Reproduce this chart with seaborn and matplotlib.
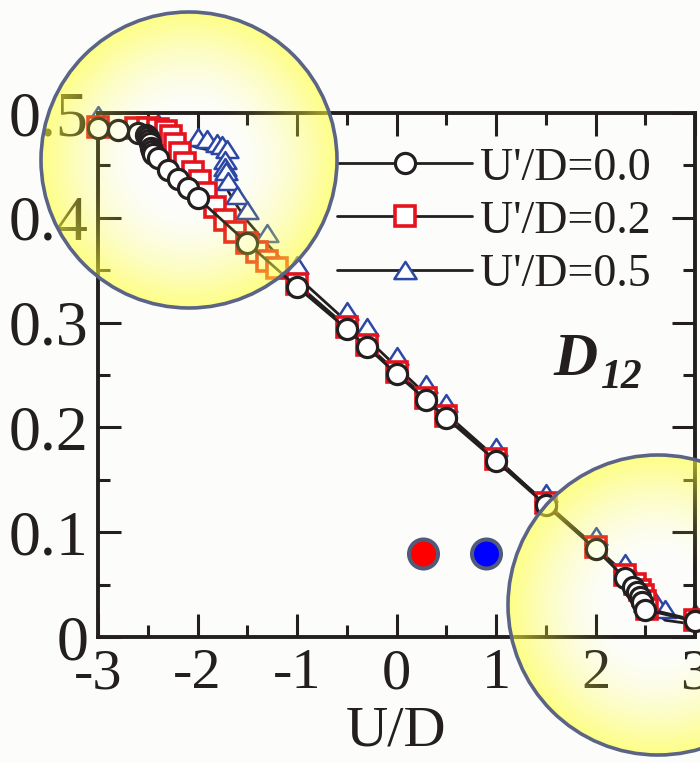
import numpy as np
import pandas as pd
import matplotlib
matplotlib.use("Agg")
import matplotlib.pyplot as plt
import seaborn as sns
from matplotlib.path import Path
from matplotlib.lines import Line2D
from matplotlib.patches import Circle
from matplotlib.ticker import MultipleLocator, FuncFormatter

# ---------------- data ----------------
u00_x = [-3.0, -2.8, -2.6, -2.52, -2.5, -2.49, -2.48, -2.47, -2.46, -2.45, -2.4, -2.3, -2.2,
         -2.1, -2.0, -1.5, -1.0, -0.5, -0.3, 0.0, 0.3, 0.5, 1.0, 1.5, 2.0, 2.3, 2.38, 2.42,
         2.45, 2.47, 2.5, 3.0]
u00_y = [0.486, 0.484, 0.481, 0.479, 0.477, 0.474, 0.471, 0.467, 0.464, 0.461, 0.457, 0.446,
         0.437, 0.428, 0.419, 0.376, 0.334, 0.294, 0.277, 0.251, 0.226, 0.209, 0.168, 0.126,
         0.084, 0.056, 0.048, 0.043, 0.038, 0.033, 0.026, 0.015]

u02_x = [-3.0, -2.62, -2.5, -2.4, -2.32, -2.27, -2.23, -2.18, -2.13, -2.05, -1.97, -1.91, -1.82,
         -1.72, -1.62, -1.5, -1.4, -1.3, -1.2, -1.0, -0.5, -0.3, 0.0, 0.3, 0.5, 1.0, 1.5, 2.0,
         2.3, 2.4, 2.45, 2.48, 2.5, 2.52, 3.0]
u02_y = [0.487, 0.486, 0.486, 0.485, 0.483, 0.478, 0.470, 0.462, 0.452, 0.444, 0.435, 0.424,
         0.410, 0.398, 0.386, 0.376, 0.367, 0.359, 0.352, 0.337, 0.296, 0.279, 0.253, 0.228,
         0.211, 0.170, 0.128, 0.086, 0.059, 0.051, 0.045, 0.040, 0.034, 0.027, 0.016]

u05_x = [-3.0, -2.4, -2.0, -1.9, -1.8, -1.75, -1.7, -1.72, -1.72, -1.71, -1.69, -1.6, -1.5,
         -1.3, -1.0, -0.5, -0.3, 0.0, 0.3, 0.5, 1.0, 1.5, 2.0, 2.3, 2.6, 2.7, 3.0]
u05_y = [0.488, 0.480, 0.467, 0.465, 0.461, 0.459, 0.455, 0.445, 0.438, 0.434, 0.425, 0.411,
         0.397, 0.375, 0.344, 0.301, 0.285, 0.258, 0.231, 0.213, 0.171, 0.127, 0.086, 0.060,
         0.024, 0.016, 0.012]

labels = ["U'/D=0.0", "U'/D=0.2", "U'/D=0.5"]
x_ticks = [-3, -2, -1, 0, 1, 2, 3]
y_ticks = [0, 0.1, 0.2, 0.3, 0.4, 0.5]

# ---------------- style ----------------
sns.set_theme(style="ticks")
plt.rcParams['font.family'] = ['Liberation Serif', 'DejaVu Serif']
plt.rcParams['axes.unicode_minus'] = False

INK = '#231f20'
RED = '#e5131d'
BLUE = '#2c47a5'

W, H = 700, 763
fig = plt.figure(figsize=(W / 100, H / 100), dpi=100, facecolor='#fcfdfb')
ax = fig.add_axes([98 / W, 1 - 637 / H, (695 - 98) / W, (637 - 113) / H])
ax.set_facecolor('none')

# triangle marker that sits slightly above its data point
tri_off = Path([(-11, 2.5), (11, 2.5), (0, 19.5), (-11, 2.5)],
               [Path.MOVETO, Path.LINETO, Path.LINETO, Path.CLOSEPOLY])
tri_leg = Path([(-11, -8.5), (11, -8.5), (0, 8.5), (-11, -8.5)],
               [Path.MOVETO, Path.LINETO, Path.LINETO, Path.CLOSEPOLY])

df05 = pd.DataFrame({'x': u05_x, 'y': u05_y})
df02 = pd.DataFrame({'x': u02_x, 'y': u02_y})
df00 = pd.DataFrame({'x': u00_x, 'y': u00_y})

sns.lineplot(data=df05, x='x', y='y', ax=ax, estimator=None, sort=False, color=INK,
             linewidth=2.0, marker=tri_off, markersize=28, markerfacecolor='white',
             markeredgecolor=BLUE, markeredgewidth=1.8, zorder=2, clip_on=False, legend=False)
sns.lineplot(data=df02, x='x', y='y', ax=ax, estimator=None, sort=False, color=INK,
             linewidth=2.0, marker='s', markersize=15, markerfacecolor='white',
             markeredgecolor=RED, markeredgewidth=2.6, zorder=3, clip_on=False, legend=False)
sns.lineplot(data=df00, x='x', y='y', ax=ax, estimator=None, sort=False, color=INK,
             linewidth=2.0, marker='o', markersize=14.5, markerfacecolor='white',
             markeredgecolor=INK, markeredgewidth=2.3, zorder=4, clip_on=False, legend=False)

ax.set_xlim(-3, 3)
ax.set_ylim(0, 0.5)
ax.set_xticks(x_ticks)
ax.set_yticks(y_ticks)
ax.xaxis.set_minor_locator(MultipleLocator(0.5))
ax.yaxis.set_minor_locator(MultipleLocator(0.05))
ax.xaxis.set_major_formatter(FuncFormatter(lambda v, p: '%d' % round(v)))
ax.yaxis.set_major_formatter(FuncFormatter(lambda v, p: '0' if abs(v) < 1e-9 else ('%.1f' % v)))
ax.set_xlabel('U/D', fontsize=42, color=INK, labelpad=4)
ax.set_ylabel('')
for s in ax.spines.values():
    s.set_linewidth(2.8)
    s.set_color(INK)
    s.set_visible(True)
ax.tick_params(which='both', direction='in', top=True, right=True, color=INK, width=2.2,
               labelcolor=INK, pad=8)
ax.tick_params(axis='x', which='major', labelsize=42)
ax.tick_params(axis='y', which='major', labelsize=46, pad=7)
ax.tick_params(which='major', length=16.5)
ax.tick_params(which='minor', length=8.5)

# legend
handles = [
    Line2D([], [], color=INK, linewidth=2.0, marker='o', markersize=14.5, markerfacecolor='white',
           markeredgecolor=INK, markeredgewidth=2.3),
    Line2D([], [], color=INK, linewidth=2.0, marker='s', markersize=15, markerfacecolor='white',
           markeredgecolor=RED, markeredgewidth=2.6),
    Line2D([], [], color=INK, linewidth=2.0, marker=tri_leg, markersize=16, markerfacecolor='white',
           markeredgecolor=BLUE, markeredgewidth=1.8),
]
leg = ax.legend(handles, labels, loc='upper left', bbox_to_anchor=(337 / W, 1 - 147 / H),
                bbox_transform=fig.transFigure, frameon=False, fontsize=33, handlelength=2.95,
                handletextpad=0.17, labelspacing=0.23, borderpad=0, borderaxespad=0, numpoints=1)
for t in leg.get_texts():
    t.set_color(INK)

# D12 label
fig.text(553 / W, 1 - 375 / H, 'D', fontsize=44, fontweight='bold', fontstyle='italic',
         color=INK, ha='left', va='baseline')
fig.text(600 / W, 1 - 388 / H, '12', fontsize=30, fontweight='bold', fontstyle='italic',
         color=INK, ha='left', va='baseline')

# ---------------- overlay: highlight circles and dots ----------------
ov = fig.add_axes([0, 0, 1, 1], zorder=10)
ov.set_xlim(0, W)
ov.set_ylim(H, 0)
ov.axis('off')
ov.patch.set_alpha(0)

yy, xx = np.mgrid[0:H, 0:W] + 0.5
alpha = np.zeros((H, W))
for cx, cy, R in [(189, 160, 148), (658, 605, 150)]:
    r = np.hypot(xx - cx, yy - cy) / R
    a = 0.6 * np.clip((r - 0.3) / 0.7, 0, 1) ** 1.6
    a[r > 1] = 0
    alpha = np.maximum(alpha, a)
rgba = np.zeros((H, W, 4))
rgba[..., 0] = 1.0
rgba[..., 1] = 1.0
rgba[..., 2] = 0.2
rgba[..., 3] = alpha
ov.imshow(rgba, extent=(0, W, H, 0), interpolation='bilinear', aspect='auto', zorder=1)
for cx, cy, R in [(189, 160, 148), (658, 605, 150)]:
    ov.add_patch(Circle((cx, cy), R, fill=False, edgecolor='#5b6487', linewidth=2.6, zorder=2))
ov.add_patch(Circle((423.5, 554), 14.5, facecolor='#ff0000', edgecolor='#525a7a', linewidth=2.9, zorder=3))
ov.add_patch(Circle((486.5, 554), 14.5, facecolor='#0000ff', edgecolor='#525a7a', linewidth=2.9, zorder=3))
ov.set_xlim(0, W)
ov.set_ylim(H, 0)

fig.savefig('out.png', dpi=100, facecolor=fig.get_facecolor())
